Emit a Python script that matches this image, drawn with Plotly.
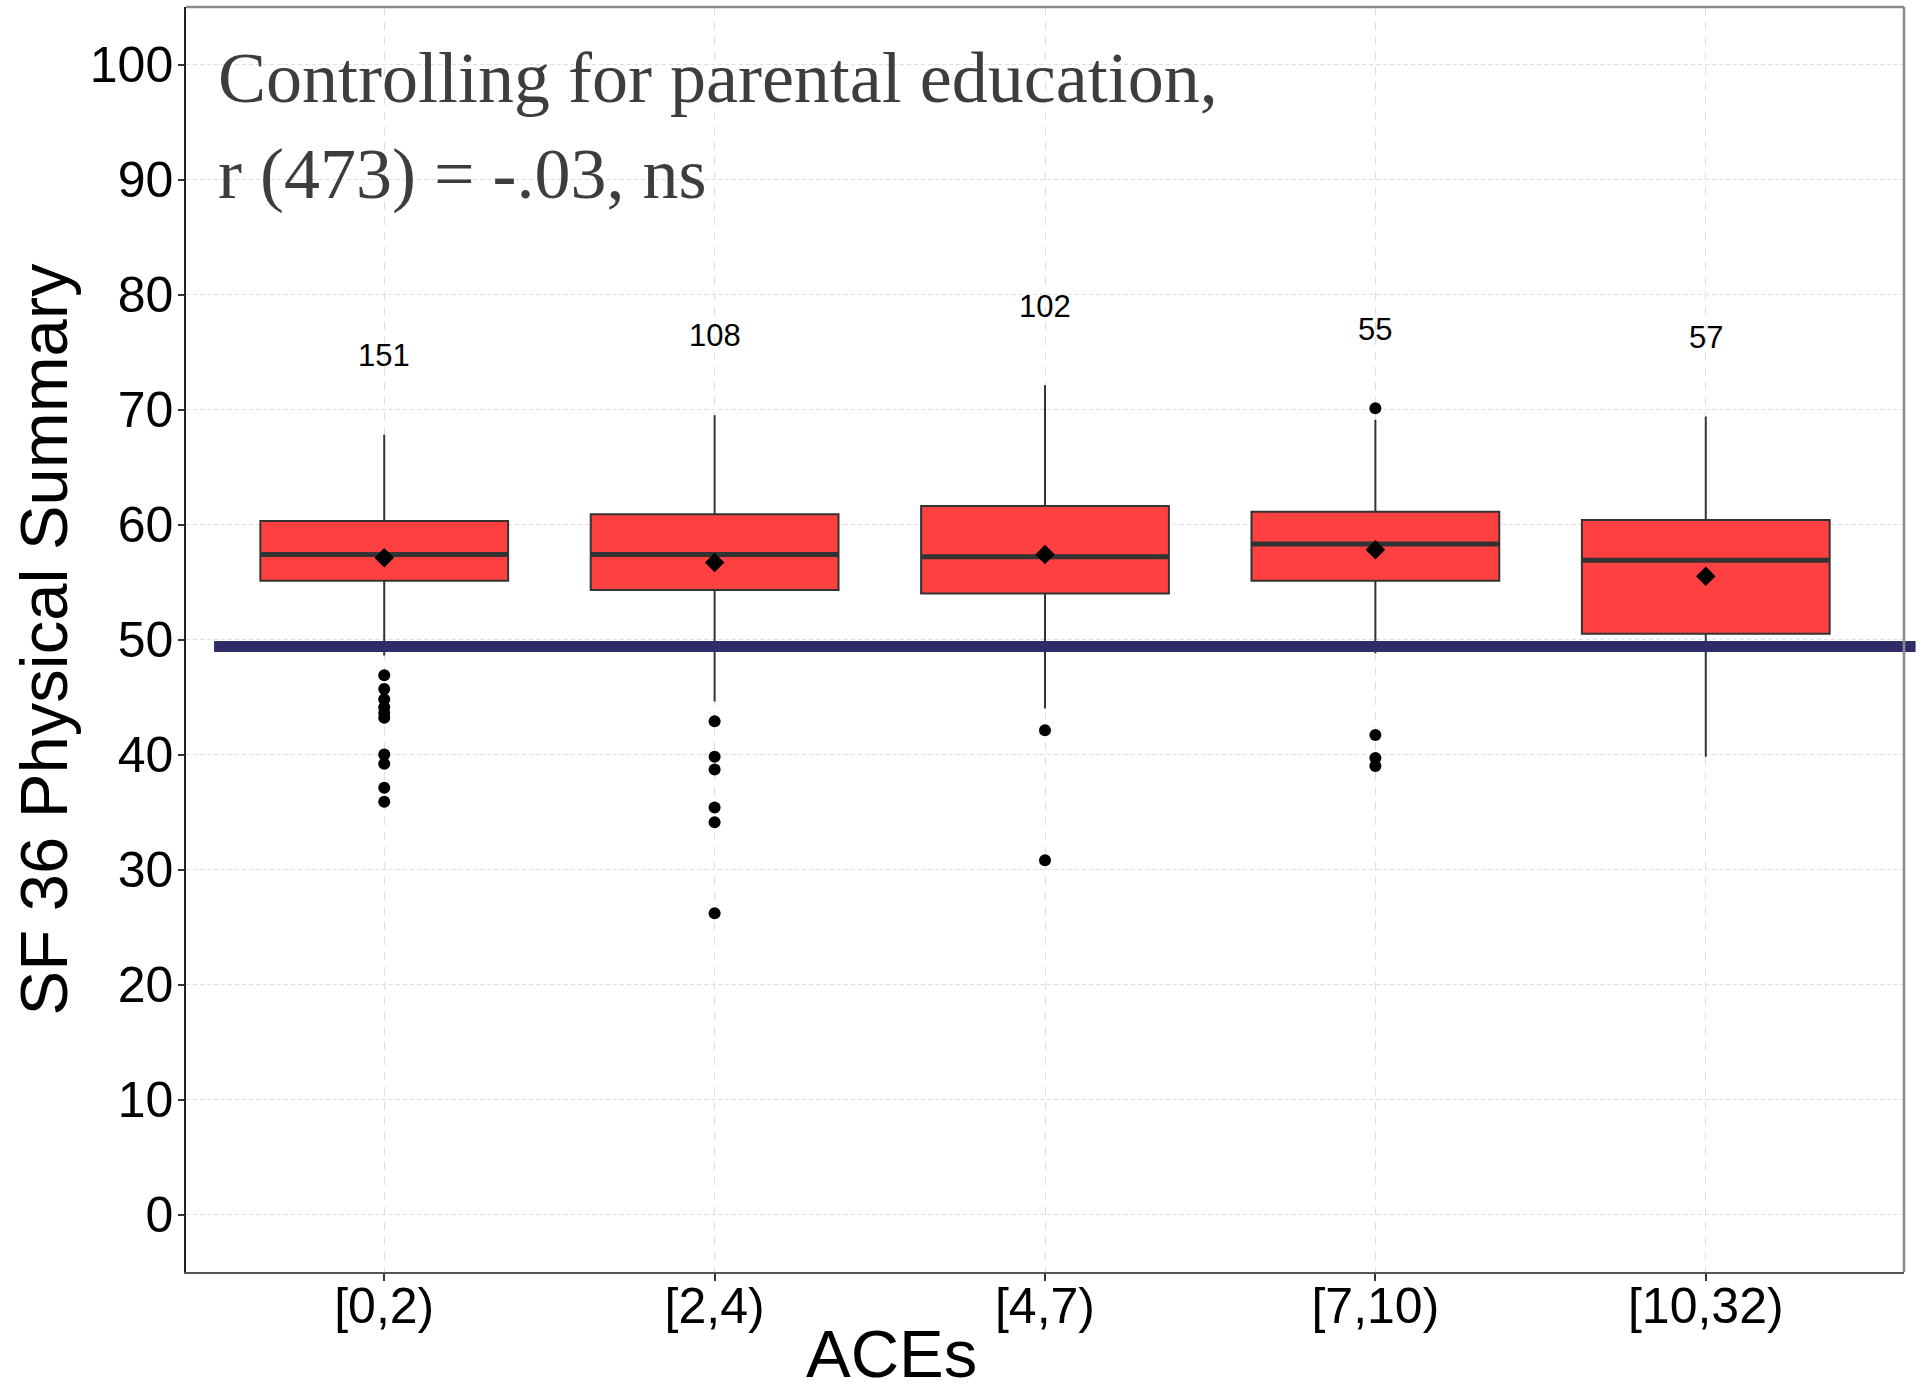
import plotly.graph_objects as go

# ACE groups and SF-36 physical summary box statistics
categories = ["[0,2)", "[2,4)", "[4,7)", "[7,10)", "[10,32)"]
group_n = [151, 108, 102, 55, 57]
q1 = [55.1, 54.3, 54.0, 55.1, 50.5]
median = [57.4, 57.4, 57.2, 58.3, 56.9]
q3 = [60.3, 60.9, 61.6, 61.1, 60.4]
lower_whisker = [48.6, 44.6, 44.0, 48.8, 39.8]
upper_whisker = [67.8, 69.5, 72.1, 69.1, 69.4]
group_mean = [57.1, 56.7, 57.4, 57.8, 55.5]
outliers = [
    [46.9, 45.7, 44.8, 44.1, 43.6, 43.2, 40.0, 39.2, 37.1, 35.9],
    [42.9, 39.8, 38.7, 35.4, 34.1, 26.2],
    [42.1, 30.8],
    [70.1, 41.7, 39.7, 39.0],
    [],
]
norm_value = 49.4
y_ticks = [0, 10, 20, 30, 40, 50, 60, 70, 80, 90, 100]

X_RANGE = [0.4, 5.6]
Y_RANGE = [-5, 105]
BOX_W = 0.75
pos = list(range(1, len(categories) + 1))

fig = go.Figure()

fig.add_trace(go.Box(
    x=pos, q1=q1, median=median, q3=q3,
    lowerfence=lower_whisker, upperfence=upper_whisker,
    width=BOX_W, whiskerwidth=0, boxpoints=False,
    fillcolor="#FF4040", line=dict(color="#333333", width=2),
    showlegend=False, hoverinfo="skip",
))

# thicker median bars
mx, my = [], []
for p, m in zip(pos, median):
    mx += [p - BOX_W / 2, p + BOX_W / 2, None]
    my += [m, m, None]
fig.add_trace(go.Scatter(x=mx, y=my, mode="lines",
                         line=dict(color="#333333", width=5),
                         showlegend=False, hoverinfo="skip"))

# outliers
ox, oy = [], []
for p, vals in zip(pos, outliers):
    ox += [p] * len(vals)
    oy += vals
fig.add_trace(go.Scatter(x=ox, y=oy, mode="markers",
                         marker=dict(color="black", size=12, symbol="circle"),
                         showlegend=False, hoverinfo="skip"))

# group means
fig.add_trace(go.Scatter(x=pos, y=group_mean, mode="markers",
                         marker=dict(color="black", size=15, symbol="diamond"),
                         showlegend=False, hoverinfo="skip"))

# sample sizes above each group
for p, n, uw, vals in zip(pos, group_n, upper_whisker, outliers):
    top = max([uw] + vals)
    fig.add_annotation(x=p, y=top + 6.9, xref="x", yref="y", text=str(n),
                       showarrow=False, xanchor="center", yanchor="middle",
                       font=dict(family="Liberation Sans, Arial", size=31, color="black"))

def xp(v):
    return (v - X_RANGE[0]) / (X_RANGE[1] - X_RANGE[0])

def yp(v):
    return (v - Y_RANGE[0]) / (Y_RANGE[1] - Y_RANGE[0])

# population norm reference line
fig.add_shape(type="line", xref="paper", yref="paper",
              x0=xp(0.485), x1=xp(5.635), y0=yp(norm_value), y1=yp(norm_value),
              line=dict(color="#302C69", width=11), layer="above")

# panel border (top and right)
fig.add_shape(type="line", xref="paper", yref="paper", x0=0, x1=1, y0=1, y1=1,
              line=dict(color="#8a8a8a", width=2.5), layer="above")
fig.add_shape(type="line", xref="paper", yref="paper", x0=1, x1=1, y0=0, y1=1,
              line=dict(color="#8a8a8a", width=2.5), layer="above")

title_font = dict(family="Liberation Serif, serif", size=72, color="#3d3d3d")
fig.add_annotation(x=0.49, y=102.5, xref="x", yref="y",
                   text="Controlling for parental education,",
                   showarrow=False, xanchor="left", yanchor="top", font=title_font)
fig.add_annotation(x=0.49, y=94.1, xref="x", yref="y",
                   text="r (473) = -.03, ns",
                   showarrow=False, xanchor="left", yanchor="top", font=title_font)

axis_title_font = dict(family="Liberation Sans, Arial", size=67, color="black")
fig.add_annotation(x=-0.0832, y=0.5, xref="paper", yref="paper",
                   text="SF 36 Physical Summary", textangle=-90,
                   showarrow=False, xanchor="center", yanchor="middle", font=axis_title_font)
fig.add_annotation(x=0.4104, y=-0.0645, xref="paper", yref="paper",
                   text="ACEs",
                   showarrow=False, xanchor="center", yanchor="middle", font=axis_title_font)

tick_font = dict(family="Liberation Sans, Arial", size=50, color="black")
fig.update_xaxes(range=X_RANGE, tickvals=pos, ticktext=categories,
                 showgrid=True, gridcolor="#dedede", gridwidth=1, griddash="8px,7px",
                 ticks="outside", ticklen=7, tickwidth=1.5, tickcolor="#333333",
                 showline=True, linecolor="#555555", linewidth=1.5,
                 zeroline=False, tickfont=tick_font, ticklabelstandoff=-18)
fig.update_yaxes(range=Y_RANGE, tickvals=y_ticks,
                 showgrid=True, gridcolor="#dedede", gridwidth=1, griddash="4px,3px",
                 ticks="outside", ticklen=6, tickwidth=1.5, tickcolor="#333333",
                 showline=True, linecolor="#222222", linewidth=1.5,
                 zeroline=False, tickfont=tick_font, ticklabelstandoff=-5)

fig.update_layout(width=1923, height=1391,
                  margin=dict(l=186, r=19, t=7, b=119),
                  plot_bgcolor="white", paper_bgcolor="white",
                  showlegend=False)

fig.write_html("out.html")
